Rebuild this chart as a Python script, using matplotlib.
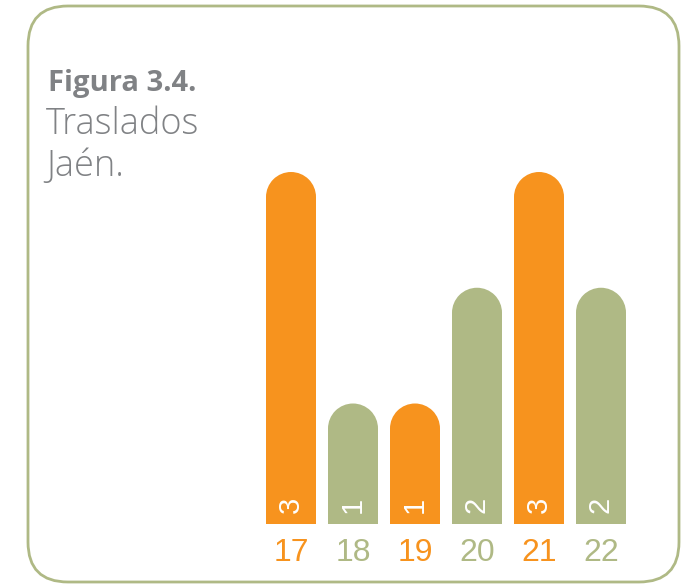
import matplotlib
matplotlib.use("Agg")
import matplotlib.pyplot as plt
from matplotlib.patches import FancyBboxPatch, Ellipse

categories = ["17", "18", "19", "20", "21", "22"]
values = [3, 1, 1, 2, 3, 2]
orange = "#f7931e"
green = "#afb985"
gray = "#808285"
colors = [orange, green, orange, green, orange, green]

W, H, DPI = 696, 587, 100
fig = plt.figure(figsize=(W / DPI, H / DPI), dpi=DPI)

# rounded border
box = FancyBboxPatch((0.28, 0.05), 6.51, 5.76,
                     boxstyle="round,pad=0,rounding_size=0.40",
                     transform=fig.dpi_scale_trans, fill=False,
                     edgecolor=green, linewidth=2.0)
fig.patches.append(box)

# title
fig.text(48 / W, 1 - 91 / H, "Figura 3.4.", fontsize=21, fontweight=700,
         family="Open Sans", color=gray, va="baseline", ha="left")
fig.text(46 / W, 1 - 134 / H, "Traslados", fontsize=26, fontweight=300,
         family="Open Sans", color=gray, va="baseline", ha="left")
fig.text(46 / W, 1 - 176 / H, "Jaén.", fontsize=26, fontweight=300,
         family="Open Sans", color=gray, va="baseline", ha="left")

# axes: spacing 62px, base at 524px from top
px_unit = 115.75
pad = 4.75 / px_unit          # small constant extra height on every bar
left_px = 291 - 31
ax_h_units = 3.4
ax = fig.add_axes([left_px / W, (H - 524) / H, 372 / W, ax_h_units * px_unit / H])
ax.set_xlim(-0.5, 5.5)
ax.set_ylim(0, ax_h_units)
ax.axis("off")

bw = 50 / 62
r = 25 / px_unit
x = list(range(len(values)))
ax.bar(x, [v + pad - r for v in values], width=bw, color=colors, linewidth=0)
for xi, v, c in zip(x, values, colors):
    ax.add_patch(Ellipse((xi, v + pad - r), bw, 2 * r, facecolor=c, edgecolor="none"))
    ax.text(xi, 19 / px_unit, str(v), rotation=90, color="white", fontsize=21,
            family="Liberation Sans", ha="center", va="center")
    ax.text(xi, -29 / px_unit, categories[xi], color=c, fontsize=23,
            family="Liberation Sans", ha="center", va="center", clip_on=False)

fig.savefig("out.png", dpi=DPI)
